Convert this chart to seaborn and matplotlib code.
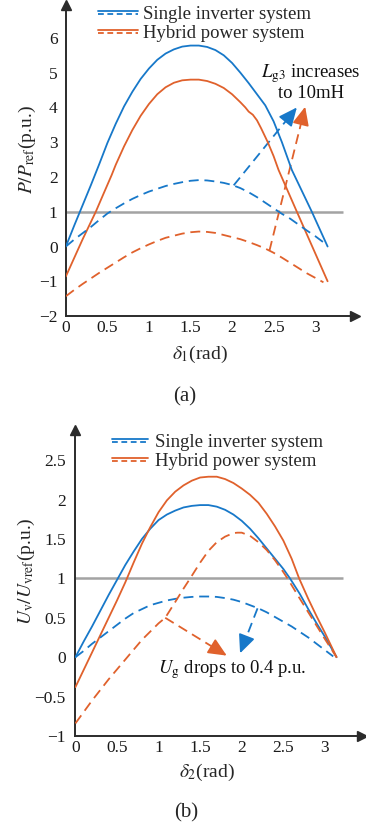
import matplotlib
matplotlib.use("Agg")
import matplotlib.pyplot as plt
import seaborn as sns
from matplotlib.lines import Line2D
from matplotlib.legend_handler import HandlerBase

# ---------------- data: panel (a)  P/Pref vs delta1 ----------------
a_blue_solid_x = [0, 0.1, 0.2, 0.3, 0.4, 0.5, 0.6, 0.7, 0.8, 0.9, 1.0, 1.1, 1.2, 1.3, 1.4, 1.5,
                  1.6, 1.7, 1.8, 1.9, 2.0, 2.1, 2.2, 2.3, 2.4, 2.5, 2.6, 2.72, 2.96, 3.15]
a_blue_solid_y = [0, 0.6, 1.18, 1.76, 2.36, 2.98, 3.53, 4.03, 4.45, 4.82, 5.12, 5.37, 5.55, 5.67, 5.75, 5.78,
                  5.78, 5.74, 5.65, 5.5, 5.28, 5.0, 4.7, 4.38, 4.06, 3.6, 3.0, 2.2, 1.0, 0]
a_orange_solid_x = [0, 0.1, 0.2, 0.3, 0.36, 0.45, 0.55, 0.6, 0.7, 0.8, 0.9, 1.0, 1.1, 1.2, 1.3, 1.4, 1.5,
                    1.6, 1.7, 1.8, 1.9, 2.0, 2.1, 2.16, 2.2, 2.25, 2.3, 2.35, 2.43, 2.5, 2.56, 2.78, 3.15]
a_orange_solid_y = [-0.86, -0.33, 0.2, 0.7, 1.0, 1.5, 2.05, 2.35, 2.88, 3.35, 3.76, 4.1, 4.38, 4.58, 4.71, 4.78, 4.8,
                    4.8, 4.76, 4.68, 4.56, 4.38, 4.15, 4.0, 3.88, 3.79, 3.63, 3.4, 3.0, 2.6, 2.2, 1.0, -1.0]
a_blue_dash_x = [0, 0.1, 0.2, 0.3, 0.4, 0.5, 0.6, 0.7, 0.8, 0.9, 1.0, 1.1, 1.2, 1.3, 1.4, 1.5, 1.6,
                 1.7, 1.8, 1.9, 2.0, 2.1, 2.2, 2.3, 2.4, 2.5, 2.6, 2.7, 2.8, 2.9, 3.0, 3.1, 3.14]
a_blue_dash_y = [0, 0.2, 0.38, 0.56, 0.76, 0.95, 1.1, 1.24, 1.37, 1.48, 1.58, 1.66, 1.74, 1.8, 1.85, 1.89, 1.91,
                 1.9, 1.87, 1.83, 1.77, 1.68, 1.56, 1.42, 1.26, 1.1, 0.94, 0.8, 0.63, 0.46, 0.3, 0.12, 0.05]
a_orange_dash_x = [0, 0.1, 0.2, 0.3, 0.4, 0.5, 0.6, 0.7, 0.8, 0.9, 1.0, 1.1, 1.2, 1.3, 1.4, 1.5, 1.6,
                   1.7, 1.8, 1.9, 2.0, 2.1, 2.2, 2.3, 2.4, 2.5, 2.6, 2.7, 2.8, 2.9, 3.0, 3.1]
a_orange_dash_y = [-1.43, -1.25, -1.08, -0.92, -0.76, -0.61, -0.46, -0.31, -0.17, -0.05, 0.06, 0.16, 0.25, 0.31, 0.37, 0.41, 0.43,
                   0.42, 0.39, 0.33, 0.27, 0.21, 0.13, 0.04, -0.06, -0.18, -0.32, -0.47, -0.62, -0.77, -0.9, -1.03]
a_ref_level = [1.0]
a_ref_span = [0, 3.34]
a_blue_arrow = [(2.02, 1.76), (2.78, 4.0)]
a_orange_arrow = [(2.45, -0.12), (2.88, 4.02)]
a_xticks = [0, 0.5, 1, 1.5, 2, 2.5, 3]
a_xticklabels = ["0", "0.5", "1", "1.5", "2", "2.5", "3"]
a_yticks = [-2, -1, 0, 1, 2, 3, 4, 5, 6]
a_yticklabels = ["\u22122", "\u22121", "0", "1", "2", "3", "4", "5", "6"]

# ---------------- data: panel (b)  Uv/Uvref vs delta2 ----------------
b_blue_solid_x = [0, 0.1, 0.2, 0.3, 0.4, 0.5, 0.6, 0.7, 0.8, 0.9, 1.0, 1.1, 1.2, 1.3, 1.4, 1.5, 1.6,
                  1.7, 1.8, 1.9, 2.0, 2.1, 2.2, 2.3, 2.4, 2.5, 2.58, 2.7, 2.8, 2.9, 3.0, 3.14]
b_blue_solid_y = [0, 0.2, 0.39, 0.59, 0.79, 0.98, 1.17, 1.34, 1.5, 1.63, 1.74, 1.81, 1.86, 1.9, 1.92, 1.93, 1.93,
                  1.91, 1.87, 1.81, 1.73, 1.63, 1.51, 1.38, 1.25, 1.12, 1.0, 0.8, 0.61, 0.43, 0.26, 0]
b_orange_solid_x = [0, 0.1, 0.2, 0.3, 0.4, 0.5, 0.6, 0.7, 0.8, 0.9, 1.0, 1.1, 1.2, 1.3, 1.4, 1.5, 1.6,
                    1.7, 1.8, 1.9, 2.0, 2.1, 2.2, 2.3, 2.4, 2.5, 2.6, 2.69, 2.8, 2.9, 3.0, 3.14]
b_orange_solid_y = [-0.38, -0.16, 0.06, 0.28, 0.5, 0.72, 0.95, 1.2, 1.44, 1.65, 1.84, 1.99, 2.1, 2.18, 2.24, 2.28, 2.29,
                    2.29, 2.26, 2.21, 2.14, 2.06, 1.96, 1.82, 1.66, 1.48, 1.25, 1.0, 0.74, 0.52, 0.31, 0]
b_blue_dash_x = [0, 0.1, 0.2, 0.3, 0.4, 0.5, 0.6, 0.7, 0.8, 0.9, 1.0, 1.1, 1.2, 1.3, 1.4, 1.5, 1.6,
                 1.7, 1.8, 1.9, 2.0, 2.1, 2.2, 2.3, 2.4, 2.5, 2.6, 2.7, 2.8, 2.9, 3.0, 3.1]
b_blue_dash_y = [0, 0.08, 0.17, 0.25, 0.33, 0.41, 0.49, 0.56, 0.61, 0.66, 0.69, 0.72, 0.74, 0.755, 0.765, 0.77, 0.77,
                 0.765, 0.75, 0.73, 0.7, 0.66, 0.62, 0.57, 0.51, 0.45, 0.39, 0.32, 0.25, 0.17, 0.09, 0.01]
b_orange_dash_x = [0, 0.2, 0.4, 0.6, 0.8, 1.0, 1.08, 1.2, 1.3, 1.38, 1.5, 1.6, 1.7, 1.8, 1.9, 1.95,
                   2.0, 2.1, 2.2, 2.3, 2.4, 2.5, 2.55, 2.7, 2.8, 2.9, 3.0, 3.14]
b_orange_dash_y = [-0.84, -0.55, -0.28, -0.03, 0.22, 0.43, 0.5, 0.7, 0.87, 1.0, 1.2, 1.35, 1.46, 1.53, 1.575, 1.58,
                   1.58, 1.54, 1.46, 1.36, 1.23, 1.08, 1.0, 0.74, 0.57, 0.4, 0.23, 0]
b_ref_level = [1.0]
b_ref_span = [0, 3.22]
b_blue_arrow = [(2.19, 0.62), (1.98, 0.05)]
b_orange_arrow = [(1.08, 0.5), (1.82, 0.02)]
b_xticks = [0, 0.5, 1, 1.5, 2, 2.5, 3]
b_xticklabels = ["0", "0.5", "1", "1.5", "2", "2.5", "3"]
b_yticks = [-1, -0.5, 0, 0.5, 1, 1.5, 2, 2.5]
b_yticklabels = ["\u22121", "\u22120.5", "0", "0.5", "1", "1.5", "2", "2.5"]

legend_labels = ["Single inverter system", "Hybrid power system"]

BLUE = "#1778c9"
ORANGE = "#e0612c"
GREY = "#a3a3a3"
AXC = "#2b2b2b"
DASH = (0, (5.5, 3.2))
LW = 1.3

sns.set_theme(style="white")
plt.rcParams["font.family"] = ["Liberation Serif", "DejaVu Serif"]
plt.rcParams["mathtext.fontset"] = "stix"
plt.rcParams["axes.unicode_minus"] = True

fig = plt.figure(figsize=(3.66, 8.31), dpi=100)
axA = fig.add_axes([0.180, 0.6197, 0.790, 0.374])
axB = fig.add_axes([0.206, 0.1143, 0.784, 0.368])


class PairHandler(HandlerBase):
    def create_artists(self, legend, orig_handle, xdescent, ydescent,
                       width, height, fontsize, trans):
        color = orig_handle[0].get_color()
        x0, x1 = -xdescent, width - xdescent
        yc = height / 2.0 - ydescent
        top = Line2D([x0, x1], [yc + 1.3, yc + 1.3], color=color, lw=1.3,
                     transform=trans)
        bot = Line2D([x0, x1], [yc - 1.0, yc - 1.0], color=color, lw=1.3,
                     linestyle=(0, (3.2, 2.0)), transform=trans)
        return [top, bot]


def style_axes(ax, xlim, ylim, xt, xtl, yt, ytl, ypad):
    ax.set_xlim(*xlim)
    ax.set_ylim(*ylim)
    ax.grid(False)
    for s in ["top", "right"]:
        ax.spines[s].set_visible(False)
    for s in ["left", "bottom"]:
        ax.spines[s].set_color(AXC)
        ax.spines[s].set_linewidth(1.4)
    ax.set_xticks(xt)
    ax.set_xticklabels(xtl)
    ax.set_yticks(yt)
    ax.set_yticklabels(ytl)
    ax.tick_params(axis="both", direction="in", length=3, width=1.0,
                   color=AXC, labelcolor="#1a1a1a", labelsize=12.5)
    ax.tick_params(axis="x", pad=3)
    ax.tick_params(axis="y", pad=ypad)
    ax.plot(1, 0, marker=">", color=AXC, markersize=7.5, transform=ax.transAxes,
            clip_on=False)
    ax.plot(0, 1, marker="^", color=AXC, markersize=7.5, transform=ax.transAxes,
            clip_on=False)


def dashed_arrow(ax, pts, color):
    (x0, y0), (x1, y1) = pts
    f = 0.85
    xm, ym = x0 + f * (x1 - x0), y0 + f * (y1 - y0)
    ax.plot([x0, xm], [y0, ym], color=color, lw=LW, linestyle=DASH)
    ax.annotate("", xy=(x1, y1), xytext=(xm, ym),
                arrowprops=dict(arrowstyle="-|>,head_length=0.8,head_width=0.36",
                                color=color, lw=LW, mutation_scale=14,
                                shrinkA=0, shrinkB=0))


def draw_panel(ax, curves, ref_level, ref_span):
    ax.hlines(ref_level, ref_span[0], ref_span[1], color=GREY, lw=1.8, zorder=1)
    for x, y, c, ls in curves:
        sns.lineplot(x=x, y=y, ax=ax, color=c, lw=LW, linestyle=ls, zorder=3)


# ---------------- panel (a) ----------------
draw_panel(axA, [
    (a_blue_solid_x, a_blue_solid_y, BLUE, "-"),
    (a_orange_solid_x, a_orange_solid_y, ORANGE, "-"),
    (a_blue_dash_x, a_blue_dash_y, BLUE, DASH),
    (a_orange_dash_x, a_orange_dash_y, ORANGE, DASH),
], a_ref_level, a_ref_span)
dashed_arrow(axA, a_blue_arrow, BLUE)
dashed_arrow(axA, a_orange_arrow, ORANGE)
style_axes(axA, (0, 3.48), (-2, 6.94), a_xticks, a_xticklabels,
           a_yticks, a_yticklabels, 6)
axA.text(2.95, 4.73, "$L_{\\mathrm{g3}}$ increases\nto 10mH", ha="center",
         va="center", fontsize=13.5, linespacing=1.05, color="#111111")
axA.set_xlabel("$\\delta_1$(rad)", fontsize=14)
axA.xaxis.set_label_coords(0.464, -0.088)
axA.set_ylabel("$P/P_{\\mathrm{ref}}$(p.u.)", fontsize=14)
axA.yaxis.set_label_coords(-0.095, 0.534)

hA = [(Line2D([], [], color=BLUE), Line2D([], [], color=BLUE, ls="--")),
      (Line2D([], [], color=ORANGE), Line2D([], [], color=ORANGE, ls="--"))]
axA.legend(hA, legend_labels, handler_map={tuple: PairHandler()},
           loc="upper left", bbox_to_anchor=(0.111, 0.997), frameon=False,
           fontsize=13.5, borderpad=0, borderaxespad=0, handlelength=2.15,
           handletextpad=0.27, labelspacing=0.08)

# ---------------- panel (b) ----------------
draw_panel(axB, [
    (b_blue_solid_x, b_blue_solid_y, BLUE, "-"),
    (b_orange_solid_x, b_orange_solid_y, ORANGE, "-"),
    (b_blue_dash_x, b_blue_dash_y, BLUE, DASH),
    (b_orange_dash_x, b_orange_dash_y, ORANGE, DASH),
], b_ref_level, b_ref_span)
dashed_arrow(axB, b_blue_arrow, BLUE)
dashed_arrow(axB, b_orange_arrow, ORANGE)
style_axes(axB, (0, 3.45), (-1, 2.88), b_xticks, b_xticklabels,
           b_yticks, b_yticklabels, 7)
axB.text(1.89, -0.16, "$U_{\\mathrm{g}}$ drops to 0.4 p.u.", ha="center",
         va="center", fontsize=13.5, color="#111111")
axB.set_xlabel("$\\delta_2$(rad)", fontsize=14)
axB.xaxis.set_label_coords(0.458, -0.085)
axB.set_ylabel("$U_{\\mathrm{v}}/U_{\\mathrm{vref}}$(p.u.)", fontsize=14)
axB.yaxis.set_label_coords(-0.135, 0.54)

axB.legend(hA, legend_labels, handler_map={tuple: PairHandler()},
           loc="upper left", bbox_to_anchor=(0.127, 0.987), frameon=False,
           fontsize=13.5, borderpad=0, borderaxespad=0, handlelength=1.95,
           handletextpad=0.35, labelspacing=0.08)

fig.text(0.505, 1 - 397 / 831, "(a)", ha="center", va="center", fontsize=15)
fig.text(0.508, 1 - 813 / 831, "(b)", ha="center", va="center", fontsize=15)

fig.savefig("out.png", dpi=100)
